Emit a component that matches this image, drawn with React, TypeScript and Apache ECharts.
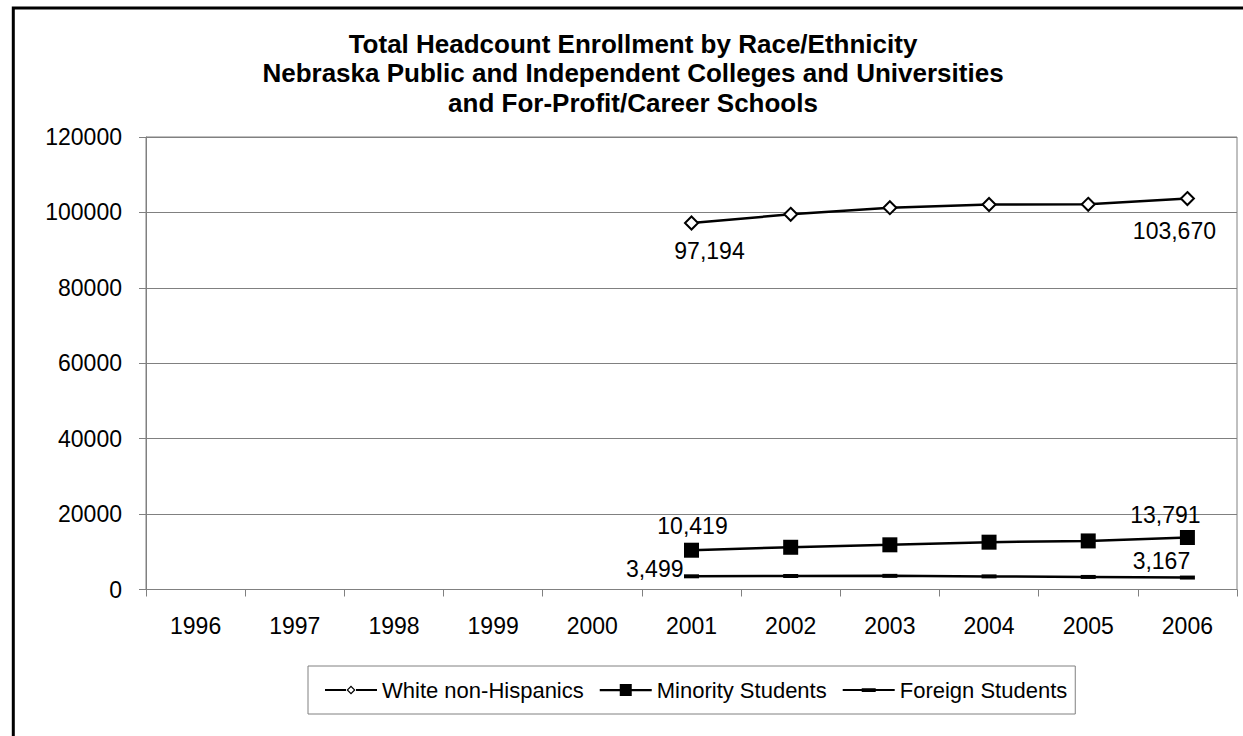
import React, { useEffect, useRef } from "react";
import * as echarts from "echarts";

const years = ["1996", "1997", "1998", "1999", "2000", "2001", "2002", "2003", "2004", "2005", "2006"];
const whiteNonHispanics = [null, null, null, null, null, 97194, 99500, 101250, 102100, 102150, 103670];
const minorityStudents = [null, null, null, null, null, 10419, 11200, 11850, 12550, 12880, 13791];
const foreignStudents = [null, null, null, null, null, 3499, 3580, 3620, 3480, 3330, 3167];
const seriesNames = ["White non-Hispanics", "Minority Students", "Foreign Students"];
const titleLines = [
  "Total Headcount Enrollment by Race/Ethnicity",
  "Nebraska Public and Independent Colleges and Universities",
  "and For-Profit/Career Schools",
];

const FONT = '"Liberation Sans", Arial, sans-serif';
const fmt = (v: number) => v.toLocaleString("en-US");

// legend icons (52 x 14 box; corner specks fix the bounding box)
const SPECKS = "M0,0L0.01,0L0.01,0.01L0,0.01Z M51.99,13.99L52,13.99L52,14L51.99,14Z ";
const ICON_WHITE =
  "path://" + SPECKS +
  "M0,6L21,6L21,8L0,8Z M31,6L52,6L52,8L31,8Z " +
  "M26,2.5L30.5,7L26,11.5L21.5,7Z M26,4.2L23.2,7L26,9.8L28.8,7Z";
const ICON_MINORITY =
  "path://" + SPECKS + "M0,6L52,6L52,8.2L0,8.2Z M20,1L32,1L32,13L20,13Z";
const ICON_FOREIGN =
  "path://" + SPECKS + "M0,6L52,6L52,8L0,8Z M19,5.3L33,5.3L33,8.9L19,8.9Z";

function withLabels(arr: (number | null)[], first: any, last: any) {
  const fi = arr.findIndex((v) => v !== null);
  const li = arr.length - 1;
  return arr.map((v, i) => {
    if (i === fi) return { value: v, label: { show: true, ...first } };
    if (i === li) return { value: v, label: { show: true, ...last } };
    return v;
  });
}

const labelBase = {
  position: "inside",
  fontSize: 23,
  fontFamily: FONT,
  color: "#000",
  formatter: (p: any) => fmt(p.value),
};

const legendItemStyle = { color: "#000", borderWidth: 0, borderColor: "transparent" };

export default function App() {
  const ref = useRef<HTMLDivElement>(null);
  useEffect(() => {
    if (!ref.current) return;
    const chart = echarts.init(ref.current, null, { renderer: "svg" });
    chart.setOption({
      animation: false,
      backgroundColor: "#fff",
      textStyle: { fontFamily: FONT },
      graphic: [
        {
          type: "rect",
          shape: { x: 13.3, y: 8, width: 1300, height: 800 },
          style: { fill: "none", stroke: "#000", lineWidth: 3 },
          silent: true,
        },
        {
          type: "text",
          x: 633,
          y: 29,
          style: {
            text: titleLines.join("\n"),
            fontSize: 26,
            fontWeight: "bold",
            fontFamily: FONT,
            fill: "#000",
            align: "center",
            verticalAlign: "top",
            lineHeight: 29.5,
          },
        },
      ],
      grid: {
        left: 146,
        right: 6,
        top: 137,
        bottom: 146.5,
        show: true,
        borderColor: "#808080",
        borderWidth: 1,
      },
      legend: {
        left: 308,
        top: 666,
        padding: [13, 8, 13, 17],
        itemGap: 16,
        itemWidth: 52,
        itemHeight: 14,
        borderColor: "#808080",
        borderWidth: 1,
        textStyle: { fontSize: 22, fontFamily: FONT, color: "#000" },
        data: [
          { name: seriesNames[0], icon: ICON_WHITE, itemStyle: legendItemStyle },
          { name: seriesNames[1], icon: ICON_MINORITY, itemStyle: legendItemStyle },
          { name: seriesNames[2], icon: ICON_FOREIGN, itemStyle: legendItemStyle },
        ],
      },
      xAxis: {
        type: "category",
        data: years,
        boundaryGap: true,
        axisLine: { lineStyle: { color: "#808080", width: 1 } },
        axisTick: { show: true, length: 7, lineStyle: { color: "#808080" } },
        axisLabel: { fontSize: 23, fontFamily: FONT, color: "#000", margin: 25 },
        splitLine: { show: false },
      },
      yAxis: {
        type: "value",
        min: 0,
        max: 120000,
        interval: 20000,
        axisLine: { show: true, lineStyle: { color: "#808080", width: 1 } },
        axisTick: { show: true, length: 7, lineStyle: { color: "#808080" } },
        axisLabel: { fontSize: 23, fontFamily: FONT, color: "#000", margin: 24, formatter: (v: number) => String(v) },
        splitLine: { show: true, lineStyle: { color: "#808080", width: 1 } },
      },
      series: [
        {
          name: seriesNames[0],
          type: "line",
          data: withLabels(
            whiteNonHispanics,
            { ...labelBase, offset: [18, 28] },
            { ...labelBase, offset: [-13, 32] }
          ),
          symbol: "diamond",
          symbolSize: 13,
          showAllSymbol: true,
          lineStyle: { color: "#000", width: 2.5 },
          itemStyle: { color: "#fff", borderColor: "#000", borderWidth: 2 },
          label: { show: false },
        },
        {
          name: seriesNames[1],
          type: "line",
          data: withLabels(
            minorityStudents,
            { ...labelBase, offset: [1, -24] },
            { ...labelBase, offset: [-22, -22] }
          ),
          symbol: "rect",
          symbolSize: 15,
          showAllSymbol: true,
          lineStyle: { color: "#000", width: 2.5 },
          itemStyle: { color: "#000" },
          label: { show: false },
        },
        {
          name: seriesNames[2],
          type: "line",
          data: withLabels(
            foreignStudents,
            { ...labelBase, align: "right", offset: [-8, -7] },
            { ...labelBase, offset: [-26, -17] }
          ),
          symbol: "rect",
          symbolSize: [15, 4],
          showAllSymbol: true,
          lineStyle: { color: "#000", width: 2.5 },
          itemStyle: { color: "#000" },
          label: { show: false },
        },
      ],
    });
    return () => chart.dispose();
  }, []);
  return (
    <div
      ref={ref}
      style={{ position: "fixed", left: 0, top: 0, width: 1243, height: 736 }}
    />
  );
}
